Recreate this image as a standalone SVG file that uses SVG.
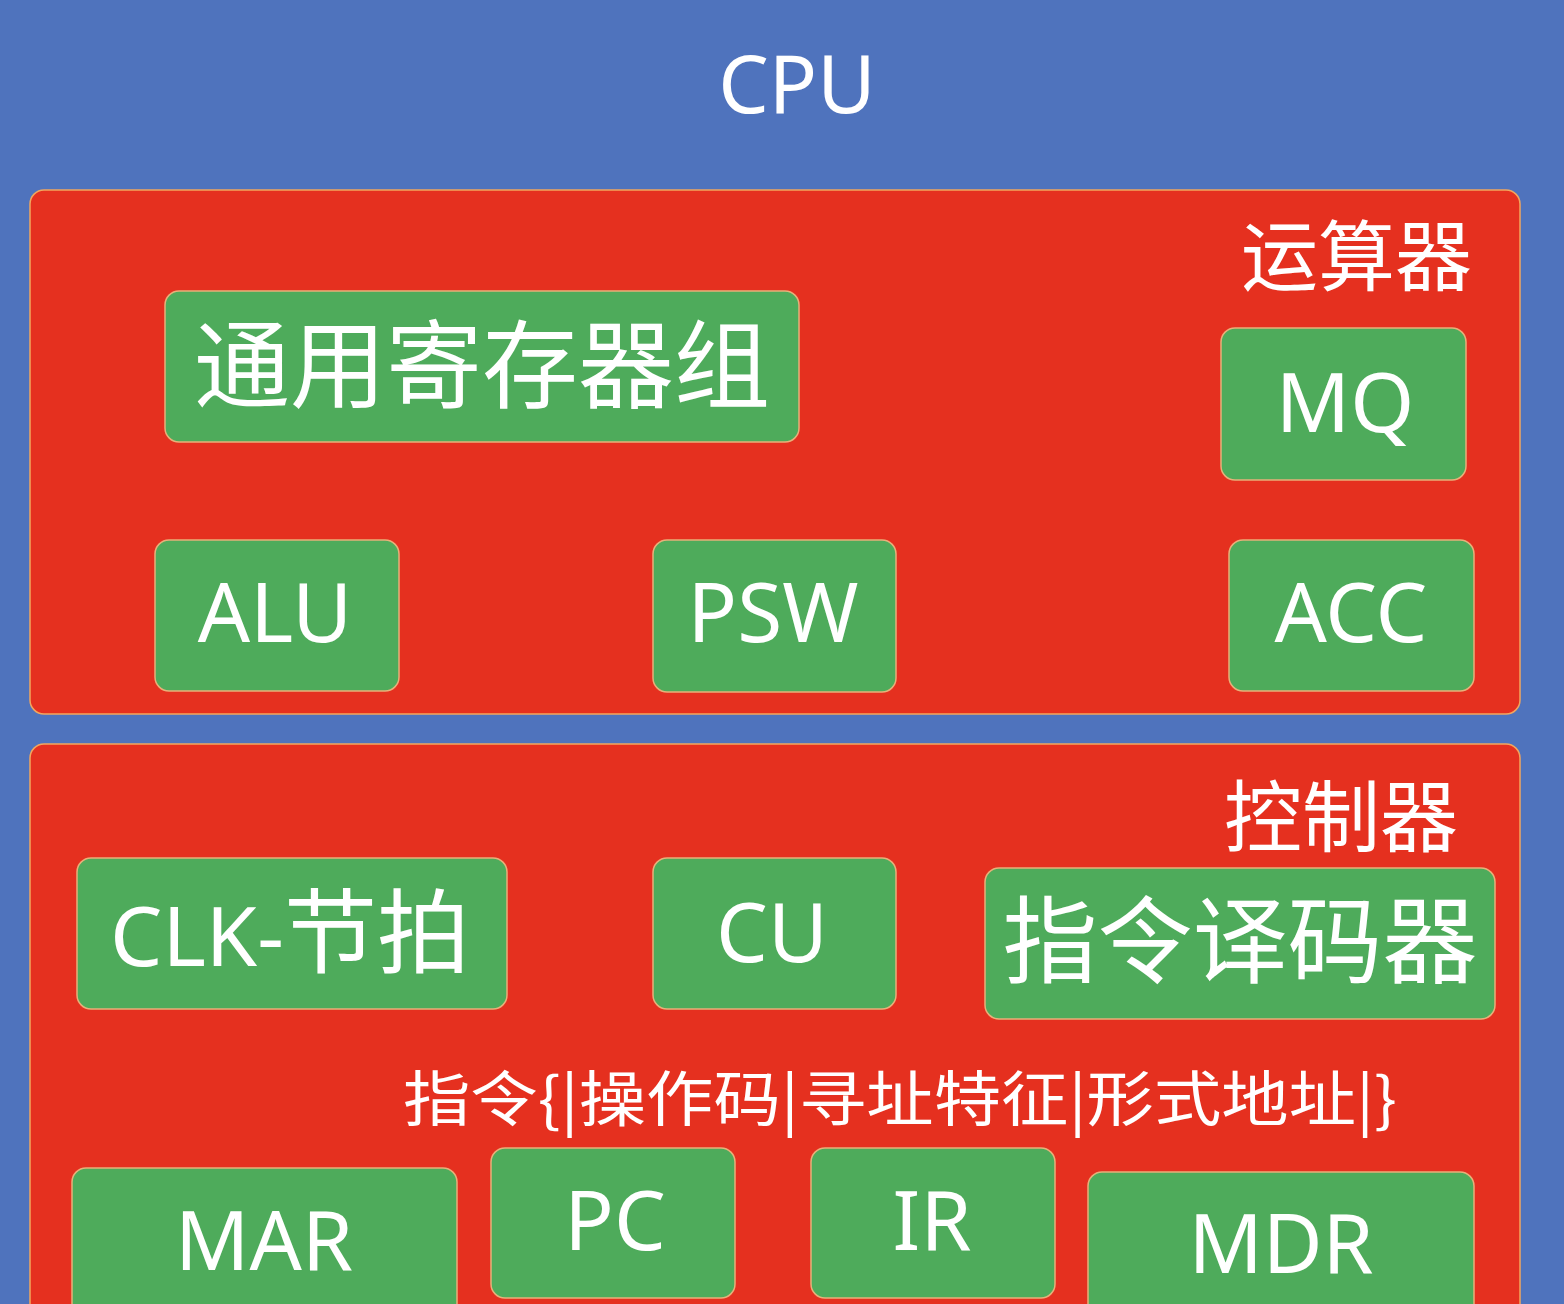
<svg xmlns="http://www.w3.org/2000/svg" width="1564" height="1304" viewBox="0 0 1564 1304">
<style>
.panel{fill:#E5301F;stroke:#F2A65E;stroke-width:1.5}
.box{fill:#4EAB5B;stroke:#E8B07A;stroke-width:1.5}
.t{fill:#FFFFFF;font-family:"Noto Sans","Noto Sans CJK SC",sans-serif}
.c{text-anchor:middle}
.cjk{fill:#FFFFFF;font-family:"Noto Sans CJK SC","Noto Sans",sans-serif}
</style>
<rect x="0" y="0" width="1564" height="1304" fill="#4F73BD"/>
<text class="t c" x="797" y="113" font-size="80">CPU</text>

<g id="alu-unit">
<rect class="panel" x="30" y="190" width="1490" height="524" rx="14"/>
<text class="cjk" x="1472" y="285" font-size="77" text-anchor="end">运算器</text>
</g>
<g id="control-unit">
<rect class="panel" x="30" y="744" width="1490" height="620" rx="14"/>
<text class="cjk" x="1458" y="846" font-size="78" text-anchor="end">控制器</text>
<text class="cjk" x="403" y="1121" font-size="60" textLength="994" lengthAdjust="spacingAndGlyphs">指令{|操作码|寻址特征|形式地址|}</text>
</g>

<g id="gpr">
<rect class="box" x="165" y="291" width="634" height="151" rx="14"/>
<text class="cjk" x="482" y="400" font-size="96" text-anchor="middle">通用寄存器组</text>
</g>
<g id="mq">
<rect class="box" x="1221" y="328" width="245" height="152" rx="14"/>
<text class="t c" x="1345" y="432" font-size="82">MQ</text>
</g>
<g id="alu">
<rect class="box" x="155" y="540" width="244" height="151" rx="14"/>
<text class="t c" x="275" y="642" font-size="82">ALU</text>
</g>
<g id="psw">
<rect class="box" x="653" y="540" width="243" height="152" rx="14"/>
<text class="t c" x="773" y="642" font-size="82">PSW</text>
</g>
<g id="acc">
<rect class="box" x="1229" y="540" width="245" height="151" rx="14"/>
<text class="t c" x="1351" y="642" font-size="82">ACC</text>
</g>
<g id="clk">
<rect class="box" x="77" y="858" width="430" height="151" rx="14"/>
<text class="t" x="110" y="966" font-size="82" textLength="360" lengthAdjust="spacingAndGlyphs">CLK-<tspan font-family="Noto Sans CJK SC, sans-serif" font-size="92">节拍</tspan></text>
</g>
<g id="cu">
<rect class="box" x="653" y="858" width="243" height="151" rx="14"/>
<text class="t c" x="772" y="962" font-size="82">CU</text>
</g>
<g id="decoder">
<rect class="box" x="985" y="868" width="510" height="151" rx="14"/>
<text class="cjk" x="1240" y="976" font-size="95" text-anchor="middle">指令译码器</text>
</g>
<g id="mar">
<rect class="box" x="72" y="1168" width="385" height="200" rx="14"/>
<text class="t c" x="264" y="1270" font-size="82">MAR</text>
</g>
<g id="pc">
<rect class="box" x="491" y="1148" width="244" height="150" rx="14"/>
<text class="t c" x="615" y="1250" font-size="82">PC</text>
</g>
<g id="ir">
<rect class="box" x="811" y="1148" width="244" height="150" rx="14"/>
<text class="t c" x="932" y="1250" font-size="82">IR</text>
</g>
<g id="mdr">
<rect class="box" x="1088" y="1172" width="386" height="200" rx="14"/>
<text class="t c" x="1281" y="1273" font-size="82">MDR</text>
</g>
<g id="connectors"></g>
</svg>
